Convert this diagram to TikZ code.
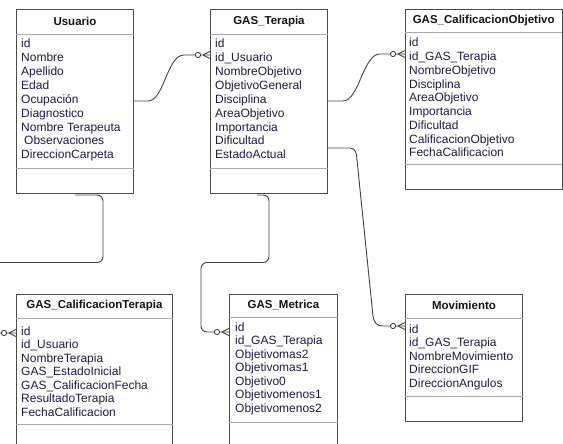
\documentclass[tikz,border=0pt]{standalone}
\usepackage{fontspec}
\setmainfont{Liberation Sans}
\definecolor{boxc}{HTML}{4A4A4A}
\definecolor{sepc}{HTML}{A8A8A8}
\definecolor{linec}{HTML}{404040}
\definecolor{attrc}{HTML}{221846}
\definecolor{titlec}{HTML}{141414}
\newcommand{\ERzeroMany}[1]{%
  \draw[conn, fill=white] ([xshift=-12pt]#1) circle (2.6pt);
  \draw[conn] ([xshift=-7pt]#1) -- ([yshift=3.6pt]#1)
              ([xshift=-7pt]#1) -- ([yshift=-3.6pt]#1);
}
\begin{document}
\begin{tikzpicture}[x=1pt,y=-1pt,
  tbl/.style={draw=boxc, line width=0.9pt, inner sep=0pt, anchor=north west, fill=white},
  sepl/.style={draw=sepc, line width=0.8pt},
  attr/.style={anchor=base west, inner sep=0pt, font=\fontsize{12}{14}\selectfont, text=attrc},
  ttl/.style={inner sep=0pt, font=\fontsize{11.5}{14}\selectfont\bfseries, text=titlec},
  conn/.style={draw=linec, line width=0.9pt}]
\useasboundingbox (0,0) rectangle (563,444);

% ---------- Usuario ----------
\node[tbl, minimum width=117pt, minimum height=184pt] (usu) at (16,9) {};
\draw[sepl] (usu.west |- 0,34) -- (usu.east |- 0,34);
\draw[sepl] (usu.west |- 0,168) -- (usu.east |- 0,168);
\node[ttl] (usu-t) at (usu.north |- 0,21.5) {Usuario};
\foreach \t [count=\i] in {id,Nombre,Apellido,Edad,Ocupación,Diagnostico,Nombre Terapeuta,{\hspace{3pt}Observaciones},DireccionCarpeta}
  \node[attr] (usu-\i) at (21,{48+(\i-1)*13.85}) {\t};

% ---------- GAS_Terapia ----------
\node[tbl, minimum width=117pt, minimum height=184pt] (ter) at (210,9) {};
\draw[sepl] (ter.west |- 0,34) -- (ter.east |- 0,34);
\draw[sepl] (ter.west |- 0,168) -- (ter.east |- 0,168);
\node[ttl] (ter-t) at (ter.north |- 0,21.5) {GAS\_Terapia};
\foreach \t [count=\i] in {id,id\_Usuario,NombreObjetivo,ObjetivoGeneral,Disciplina,AreaObjetivo,Importancia,Dificultad,EstadoActual}
  \node[attr] (ter-\i) at (215,{48+(\i-1)*13.85}) {\t};

% ---------- GAS_CalificacionObjetivo ----------
\node[tbl, minimum width=156.5pt, minimum height=180pt] (cob) at (405,9) {};
\draw[sepl] (cob.west |- 0,32) -- (cob.east |- 0,32);
\draw[sepl] (cob.west |- 0,164) -- (cob.east |- 0,164);
\node[ttl] (cob-t) at (cob.north |- 0,20.5) {GAS\_CalificacionObjetivo};
\foreach \t [count=\i] in {id,id\_GAS\_Terapia,NombreObjetivo,Disciplina,AreaObjetivo,Importancia,Dificultad,CalificacionObjetivo,FechaCalificacion}
  \node[attr] (cob-\i) at (409,{47+(\i-1)*13.75}) {\t};

% ---------- GAS_CalificacionTerapia ----------
\node[tbl, minimum width=156pt, minimum height=165pt] (cte) at (16,294) {};
\draw[sepl] (cte.west |- 0,318) -- (cte.east |- 0,318);
\draw[sepl] (cte.west |- 0,424) -- (cte.east |- 0,424);
\node[ttl] (cte-t) at (cte.north |- 0,306) {GAS\_CalificacionTerapia};
\foreach \t [count=\i] in {id,id\_Usuario,NombreTerapia,GAS\_EstadoInicial,GAS\_CalificacionFecha,ResultadoTerapia,FechaCalificacion}
  \node[attr] (cte-\i) at (21,{335+(\i-1)*13.5}) {\t};

% ---------- GAS_Metrica ----------
\node[tbl, minimum width=108pt, minimum height=165pt] (met) at (229,294) {};
\draw[sepl] (met.west |- 0,317) -- (met.east |- 0,317);
\draw[sepl] (met.west |- 0,422) -- (met.east |- 0,422);
\node[ttl] (met-t) at (met.north |- 0,305.5) {GAS\_Metrica};
\foreach \t [count=\i] in {id,id\_GAS\_Terapia,Objetivomas2,Objetivomas1,Objetivo0,Objetivomenos1,Objetivomenos2}
  \node[attr] (met-\i) at (235,{331+(\i-1)*13.5}) {\t};

% ---------- Movimiento ----------
\node[tbl, minimum width=117pt, minimum height=127pt] (mov) at (405,294) {};
\draw[sepl] (mov.west |- 0,318) -- (mov.east |- 0,318);
\draw[sepl] (mov.west |- 0,396) -- (mov.east |- 0,396);
\node[ttl] (mov-t) at (mov.north |- 0,305.5) {Movimiento};
\foreach \t [count=\i] in {id,id\_GAS\_Terapia,NombreMovimiento,DireccionGIF,DireccionAngulos}
  \node[attr] (mov-\i) at (409,{333+(\i-1)*13.5}) {\t};

% ---------- connectors ----------
\coordinate (c1) at (ter.west |- 0,55);
\coordinate (c2) at (cob.west |- 0,54);
\coordinate (c3) at (mov.west |- 0,326);
\coordinate (c4) at (met.west |- 0,332);
\coordinate (c5) at (cte.west |- 0,333);

\draw[conn] (usu.east |- 0,101) -- (148,101) .. controls (164,101) and (167,55) .. (184,55) -- (c1);
\ERzeroMany{c1}

\draw[conn] (ter.east |- 0,101) -- (343,101) .. controls (359,101) and (363,54) .. (380,54) -- (c2);
\ERzeroMany{c2}

\draw[conn] (ter.east |- 0,148) -- (350,148) .. controls (355,148) and (357,153) .. (357,160)
  -- (373,316) .. controls (374,323) and (377,326) .. (383,326) -- (c3);
\ERzeroMany{c3}

\draw[conn, rounded corners=6pt] (257,195) -- (269,195) -- (269,262.5) -- (201,262.5) -- (201,332) -- (c4);
\ERzeroMany{c4}

\draw[conn, rounded corners=6pt] (75,195) -- (103,195) -- (103,262.5) -- (-12,262.5) -- (-12,333) -- (c5);
\ERzeroMany{c5}
\end{tikzpicture}
\end{document}
